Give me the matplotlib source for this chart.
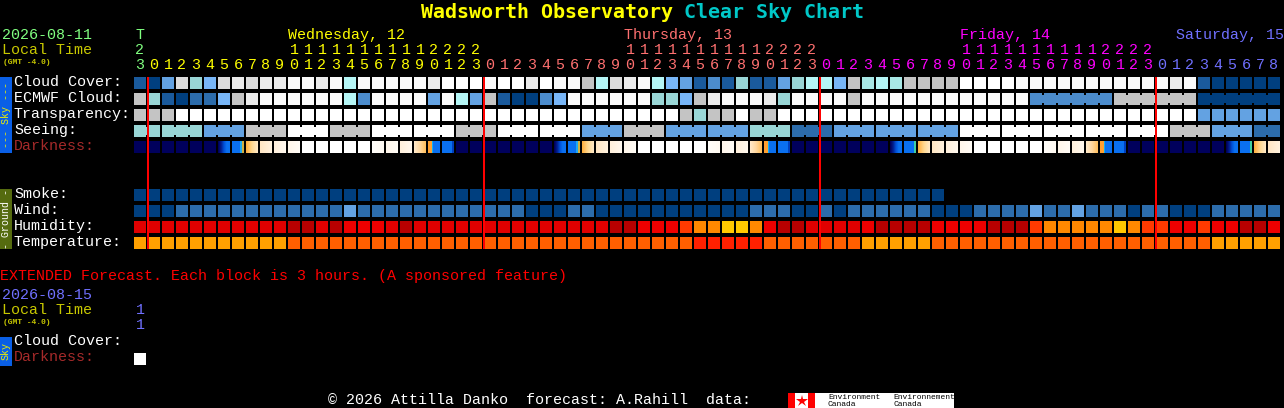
import numpy as np
import matplotlib
matplotlib.use("Agg")
import matplotlib.pyplot as plt
from matplotlib.colors import LinearSegmentedColormap

#forecast values, one level per block
cloud_cover = [1, 0, 4, 9, 6, 5, 9, 10, 9, 10, 10, 11, 11, 10, 11, 7, 11, 11, 11, 11, 11,
               10, 12, 12, 12, 11, 12, 12, 10, 12, 11, 11, 8, 7, 9, 10, 11, 7, 5, 4, 1, 3, 1, 6, 1, 1, 4, 6, 7, 7, 5, 8,
               13, 7, 13, 8, 8, 8, 8, 12, 12, 12, 12, 11, 11, 11, 11, 11, 11, 11, 11, 11, 11, 11, 10, 11, 1, 0, 0, 0, 0, 0]
ecmwf_cloud = [8, 6, 1, 0, 2, 2, 5, 8, 10, 11, 11, 11, 11, 11, 11, 7, 3, 11, 11, 11, 11,
               4, 11, 7, 4, 8, 1, 0, 0, 3, 5, 11, 11, 11, 11, 11, 11, 6, 6, 5, 8, 10, 11, 11, 11, 10, 6, 11, 11, 11, 11, 8,
               11, 11, 11, 11, 11, 11, 11, 11, 11, 11, 11, 11, 3, 3, 3, 3, 3, 3, 8, 8, 8, 8, 8, 8, 0, 0, 0, 0, 0, 0]
transparency = [8, 8, 8] + [12] * 36 + [8, 6, 8, 8, 12, 8, 8] + [12] * 30 + [4] * 6
#seeing is given per 3 hour period, the first period only has 2 blocks
seeing_periods = [6, 6, 4, 8, 12, 8, 12, 12, 8, 12, 12, 4, 8, 4, 4, 6, 2, 4, 4, 4, 12, 12, 12, 12, 12, 8, 4, 2]
darkness = [0, 0, 0, 0, 0, 0, 1, 2, 3, 4, 5, 6, 7, 7, 7, 7, 7, 8, 6, 5, 9, 10, 11,
            0, 0, 0, 0, 0, 0, 0, 1, 2, 3, 4, 5, 6, 7, 7, 7, 7, 7, 8, 6, 5, 9, 10, 11,
            0, 0, 0, 0, 0, 0, 0, 1, 12, 3, 4, 5, 6, 7, 7, 7, 7, 7, 8, 6, 5, 9, 10, 11,
            0, 0, 0, 0, 0, 0, 0, 1, 12, 3, 4]
smoke = [0] * 58
wind = [0, 0, 0] + [2] * 12 + [4] + [2] * 12 + [0, 0, 0, 2, 2] + [0] * 11 + [2, 2, 2, 0, 0, 2, 0, 2,
        2, 2, 2, 2, 2, 0, 0, 0, 2, 2, 2, 2, 4, 2, 2, 4, 2, 2, 2, 0, 2, 2, 0, 0, 0, 2, 2, 2, 2, 2]
humidity = [1] * 11 + [0, 0, 1, 0, 2, 2, 2, 1, 0, 1] + [1] * 13 + [0, 0, 2, 2, 2, 3, 4, 4, 5, 5, 4, 2, 0, 0, 1, 1, 1, 1,
            2, 0, 0, 0, 0, 2, 2, 2, 2, 0, 0, 0, 3, 4, 4, 4, 4, 4, 5, 4, 3, 3, 2, 2, 3, 2, 2, 0, 0, 2]
temperature = [2] * 11 + [1] * 29 + [0] * 5 + [1] * 7 + [2] * 5 + [1] * 20 + [2] * 5

sky_rows = ["Cloud Cover:", "ECMWF Cloud:", "Transparency:", "Seeing:"]
ground_rows = ["Smoke:", "Wind:", "Humidity:", "Temperature:"]
days = ["Wednesday, 12", "Thursday, 13", "Friday, 14", "Saturday, 15"]
day_start_cols = [1, 25, 49, 73]
day_label_x = [288, 624, 960, 1176]

#colours for the levels above
sky_colors = ["#003f7f", "#1a5a9c", "#2c6cab", "#4c8ccc", "#63a2e2", "#78b6f7", "#99d6d6", "#b5f6f6",
              "#c4c4c4", "#dcdcdc", "#ebebeb", "#fafafa", "#ffffff", "#a8e8e6"]
humidity_colors = ["#b80000", "#e00000", "#ee0000", "#ff3a00", "#ff8800", "#ffc800"]
temperature_colors = ["#ff2000", "#ff5f00", "#ffa000"]
wind_colors = sky_colors
dark_blocks = [["#00005c", "#00005c"],
               ["#00005c", "#001f90", "#0050d8", "#0a70f0", "#0a70f0"],
               ["#0a70f0", "#0a70f0", "#0a70f0", "#0a70f0", "#0a70f0", "#0a70f0", "#0a70f0", "#0a70f0", "#20a8f0", "#20a8f0", "#d0b040", "#d0b040"],
               ["#ffb040", "#ffd890", "#ffe8c4"],
               ["#ffe6c4", "#fff2de"],
               ["#fff0dc", "#fff8ee"],
               ["#fff6ea", "#fffcf6"],
               ["#ffffff", "#ffffff"],
               ["#fffdf9", "#fffaf2"],
               ["#ffe8c8", "#ffd8a0", "#ffc060"],
               ["#ffa030", "#ffa030", "#ffa030", "#ffa030", "#10b0f0", "#0a70f0", "#0a70f0", "#0a70f0", "#0a70f0", "#0a70f0", "#0a70f0", "#0a70f0"],
               ["#0a70f0", "#0a70f0", "#0a70f0", "#0a70f0", "#0a70f0", "#0a70f0", "#0a70f0", "#0a70f0", "#0a70f0", "#0a70f0", "#0040c0", "#0040c0"],
               ["#0a70f0", "#0a70f0", "#0a70f0", "#0a70f0", "#0a70f0", "#0a70f0", "#0a70f0", "#0a70f0", "#0a70f0", "#0a70f0", "#40d0a0", "#40d0a0"]]

GREEN = "#80ff80"
OLIVE = "#c8c800"
DAY_COLORS = ["#ffff00", "#ff7070", "#ff00ff", "#7070ff"]
MONO = "Liberation Mono"
BOLD_MONO = "DejaVu Sans Mono"
FIRST_X = 134
STEP = 14
BLOCK = 12

fig = plt.figure(figsize=(12.84, 4.08), dpi=100, facecolor="black")
ax = fig.add_axes([0, 0, 1, 1])
ax.set_facecolor("black")


def col_x(col):
    return FIRST_X + STEP * col


def label(x, y, s, color="white", size=10.8, **kw):
    ax.text(x, y, s, color=color, fontsize=size, family=MONO, va="center", **kw)


def draw_row(y, levels, colors, joined=None):
    #a row of blocks, joined(col) says if a block is linked with the next one
    xs = [col_x(i) for i in range(len(levels))]
    cs = [colors[v] for v in levels]
    ax.bar(xs, BLOCK, width=BLOCK, bottom=y, color=cs, align="edge", linewidth=0, antialiased=False)
    if joined is None:
        return
    for i in range(len(levels) - 1):
        if joined(i):
            ax.bar(col_x(i) + BLOCK, 8, width=2, bottom=y + 2, color=cs[i], align="edge", linewidth=0, antialiased=False)


#title
ax.text(421, 12, "Wadsworth Observatory", color="#ffff00", fontsize=14.4, family=BOLD_MONO, weight="bold", va="center")
ax.text(684, 12, "Clear Sky Chart", color="#00c8c8", fontsize=14.4, family=BOLD_MONO, weight="bold", va="center")

#date and time header
label(2, 35, "2026-08-11", GREEN)
label(2, 50, "Local Time", OLIVE)
label(3, 62, "(GMT -4.0)", OLIVE, size=5.8, weight="bold")
label(col_x(0) + 6, 35, "T", GREEN, ha="center")
label(col_x(0) + 6, 50, "2", GREEN, ha="center")
label(col_x(0) + 6, 65, "3", GREEN, ha="center")
for d in range(len(days)):
    label(day_label_x[d], 35, days[d], DAY_COLORS[d])
    for hour in range(24):
        col = day_start_cols[d] + hour
        if col >= len(cloud_cover):
            break
        label(col_x(col) + 6, 65, str(hour % 10), DAY_COLORS[d], ha="center")
        if hour >= 10:
            label(col_x(col) + 6, 50, str(hour // 10), DAY_COLORS[d], ha="center")

#sky blocks
seeing = [seeing_periods[(i + 1) // 3] for i in range(82)]
draw_row(77, cloud_cover, sky_colors)
draw_row(93, ecmwf_cloud, sky_colors, lambda i: i >= 64 and ecmwf_cloud[i] == ecmwf_cloud[i + 1])
draw_row(109, transparency, sky_colors)
draw_row(125, seeing, sky_colors, lambda i: (i + 1) // 3 == (i + 2) // 3)

#the darkness blocks have a gradient in them
for i in range(len(darkness)):
    stops = dark_blocks[darkness[i]]
    cmap = LinearSegmentedColormap.from_list("dark", stops, N=max(len(stops), 12))
    ax.imshow(np.linspace(0, 1, 12).reshape(1, -1), cmap=cmap, aspect="auto", interpolation="nearest",
              extent=[col_x(i), col_x(i) + BLOCK, 153, 141])

#ground blocks
draw_row(189, smoke, sky_colors)
draw_row(205, wind, wind_colors)
draw_row(221, humidity, humidity_colors)
draw_row(237, temperature, temperature_colors)

#row names
for i in range(len(sky_rows)):
    label(14, 82 + 16 * i, sky_rows[i])
label(14, 146, "Darkness:", "#a52a2a")
for i in range(len(ground_rows)):
    label(14, 194 + 16 * i, ground_rows[i])

#side tabs
ax.bar(0, 76, width=12, bottom=77, color="#0a5fe6", align="edge", linewidth=0)
ax.text(6, 115, "--- Sky ---", color="#f0f000", fontsize=7.2, family=MONO, rotation=90, ha="center", va="center")
ax.bar(0, 60, width=12, bottom=189, color="#556b0f", align="edge", linewidth=0)
ax.text(6, 219, "- Ground -", color="white", fontsize=7.2, family=MONO, rotation=90, ha="center", va="center")

#midnight lines
for col in day_start_cols:
    ax.bar(col_x(col) - 1, 172, width=2, bottom=77, color="#ff0000", align="edge", linewidth=0, antialiased=False, zorder=5)

#extended forecast part
label(0, 276, "EXTENDED Forecast. Each block is 3 hours. (A sponsored feature)", "#ff0000")
label(2, 295, "2026-08-15", "#7070ff")
label(2, 310, "Local Time", OLIVE)
label(3, 322, "(GMT -4.0)", OLIVE, size=5.8, weight="bold")
label(col_x(0) + 6, 310, "1", "#7070ff", ha="center")
label(col_x(0) + 6, 325, "1", "#7070ff", ha="center")
label(14, 341, "Cloud Cover:")
label(14, 357, "Darkness:", "#a52a2a")
ax.bar(col_x(0), BLOCK, width=BLOCK, bottom=353, color="white", align="edge", linewidth=0, antialiased=False)
ax.bar(0, 29, width=12, bottom=337, color="#0a5fe6", align="edge", linewidth=0)
ax.text(6, 351, "Sky", color="#f0f000", fontsize=7.2, family=MONO, rotation=90, ha="center", va="center")

#footer and logo
label(328, 400, "\u00a9 2026 Attilla Danko  forecast: A.Rahill  data:")
ax.bar(788, 15, width=166, bottom=393, color="white", align="edge", linewidth=0, antialiased=False)
ax.bar(788, 15, width=7, bottom=393, color="#ff0000", align="edge", linewidth=0, antialiased=False)
ax.bar(808, 15, width=7, bottom=393, color="#ff0000", align="edge", linewidth=0, antialiased=False)
ax.plot([801.5], [400.5], marker="*", color="#ff0000", markersize=9, markeredgewidth=0)
for x, word in [(828, "Environment"), (893, "Environnement")]:
    ax.text(x, 397.5, word, color="black", fontsize=5.8, family=MONO, va="center", clip_on=True)
    ax.text(x, 404, "Canada", color="black", fontsize=5.8, family=MONO, va="center")

ax.set_xlim(0, 1284)
ax.set_ylim(408, 0)
ax.axis("off")
fig.savefig("out.png", dpi=100, facecolor="black")
